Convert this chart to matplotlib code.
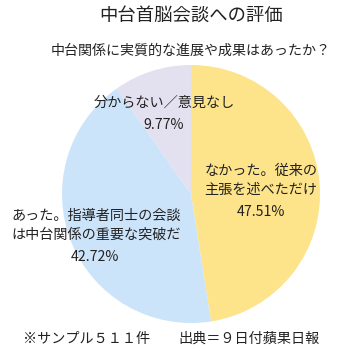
import matplotlib
matplotlib.use("Agg")
import matplotlib.pyplot as plt

plt.rcParams['font.family'] = ['Noto Sans CJK JP', 'DejaVu Sans']

title = "中台首脳会談への評価"
subtitle = "中台関係に実質的な進展や成果はあったか？"
labels = ["なかった。従来の\n主張を述べただけ", "あった。指導者同士の会談\nは中台関係の重要な突破だ", "分からない／意見なし"]
values = [47.51, 42.72, 9.77]
colors = ["#FDE38A", "#CCE4FA", "#E3E1EF"]
footer_left = "※サンプル５１１件"
footer_right = "出典＝９日付蘋果日報"

W, H = 355, 351
fig = plt.figure(figsize=(W / 100, H / 100), dpi=100)
ax = fig.add_axes([0, 0, 1, 1])

cx, cy, r = 191, H - 194, 129
ax.pie(values, colors=colors, startangle=90, counterclock=False,
       center=(cx, cy), radius=r, frame=True,
       wedgeprops=dict(linewidth=0))
ax.set_xlim(0, W)
ax.set_ylim(0, H)
ax.set_aspect('equal')
ax.axis('off')

tc = "#222222"
fs = 10.2
# label positions in pixel coords (x, y from top)
pos = [(261, 180), (96, 225), (164, 103)]
pct_pos = [(261, 212), (95, 257), (164, 125)]
for lab, v, (x, y), (px, py) in zip(labels, values, pos, pct_pos):
    ax.text(x, H - y, lab, ha='center', va='center', fontsize=fs, color=tc,
            linespacing=1.45)
    ax.text(px, H - py, f"{v:.2f}%", ha='center', va='center', fontsize=fs, color=tc)

ax.text(191, H - 16, title, ha='center', va='center', fontsize=13.2, color=tc)
ax.text(191, H - 51, subtitle, ha='center', va='center', fontsize=10.1, color=tc)
ax.text(87, H - 339, footer_left, ha='center', va='center', fontsize=10.2, color=tc)
ax.text(249, H - 339, footer_right, ha='center', va='center', fontsize=10.2, color=tc)

fig.savefig("out.png", dpi=100, facecolor='white')
